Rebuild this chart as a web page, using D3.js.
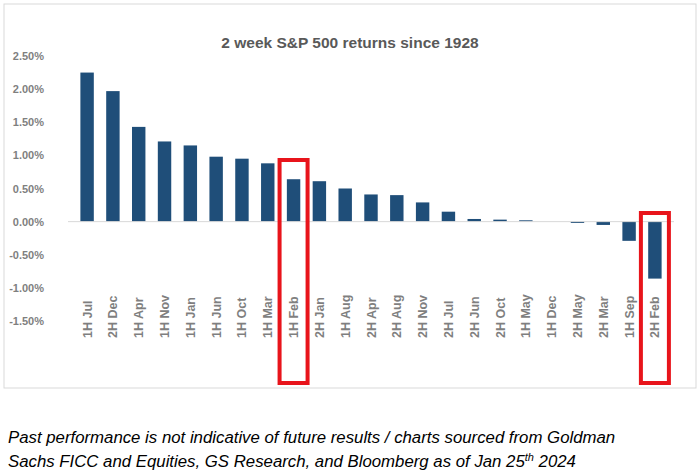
<!DOCTYPE html><html><head><meta charset="utf-8">
<script src="https://cdn.jsdelivr.net/npm/d3@7"></script>
<style>body{margin:0;background:#fff;font-family:"Liberation Sans",Arial,sans-serif}</style></head><body>
<svg id="c" width="700" height="473"></svg>
<script>
const categories=["1H Jul","2H Dec","1H Apr","1H Nov","1H Jan","1H Jun","1H Oct","1H Mar","1H Feb","2H Jan","1H Aug","2H Apr","2H Aug","2H Nov","2H Jul","2H Jun","2H Oct","1H May","1H Dec","2H May","2H Mar","1H Sep","2H Feb"];
const returns=[2.25,1.97,1.43,1.21,1.15,0.98,0.95,0.88,0.64,0.61,0.50,0.41,0.40,0.29,0.15,0.04,0.03,0.02,0.0,-0.02,-0.05,-0.29,-0.86];
const yTicks=[2.5,2.0,1.5,1.0,0.5,0.0,-0.5,-1.0,-1.5];
const highlighted=["1H Feb","2H Feb"];
const svg=d3.select("#c");
svg.append("rect").attr("x",4).attr("y",4).attr("width",692).attr("height",384).attr("fill","none").attr("stroke","#d9d9d9");
const x=d3.scaleBand().domain(categories).range([68,674]).padding(0.48);
const y=d3.scaleLinear().domain([-1.5,2.5]).range([321,56]);
svg.append("text").attr("x",350).attr("y",48).attr("text-anchor","middle").attr("font-size",15.5).attr("font-weight","bold").attr("fill","#595959").text("2 week S&P 500 returns since 1928");
yTicks.forEach(t=>svg.append("text").attr("x",44).attr("y",y(t)+4).attr("text-anchor","end").attr("font-size",11).attr("font-weight","bold").attr("fill","#7f7f7f").text(t.toFixed(2)+"%"));
svg.selectAll("rect.bar").data(returns).enter().append("rect").attr("class","bar")
 .attr("x",(d,i)=>x(categories[i])).attr("width",x.bandwidth())
 .attr("y",d=>y(Math.max(0,d))).attr("height",d=>Math.abs(y(d)-y(0))).attr("fill","#1f4e79");
svg.append("line").attr("x1",68).attr("x2",674).attr("y1",y(0)).attr("y2",y(0)).attr("stroke","#d9d9d9");
categories.forEach(c=>{const cx=x(c)+x.bandwidth()/2;
 svg.append("text").attr("transform",`translate(${cx+4.5},338) rotate(-90)`).attr("text-anchor","start").attr("font-size",12.5).attr("font-weight","bold").attr("fill","#7f7f7f").text(c);});
highlighted.forEach(c=>{const cx=x(c)+x.bandwidth()/2;
 svg.append("rect").attr("x",cx-14).attr("y",c==="1H Feb"?160:213).attr("width",28).attr("height",c==="1H Feb"?223:170).attr("fill","none").attr("stroke","#e8141b").attr("stroke-width",4);});
const cap=svg.append("text").attr("font-size",16.8).attr("font-style","italic").attr("fill","#000");
cap.append("tspan").attr("x",8).attr("y",443).text("Past performance is not indicative of future results / charts sourced from Goldman");
cap.append("tspan").attr("x",8).attr("y",467).text("Sachs FICC and Equities, GS Research, and Bloomberg as of Jan 25");
cap.append("tspan").attr("font-size",11).attr("dy",-6).text("th");
cap.append("tspan").attr("dy",6).text(" 2024");
</script></body></html>
